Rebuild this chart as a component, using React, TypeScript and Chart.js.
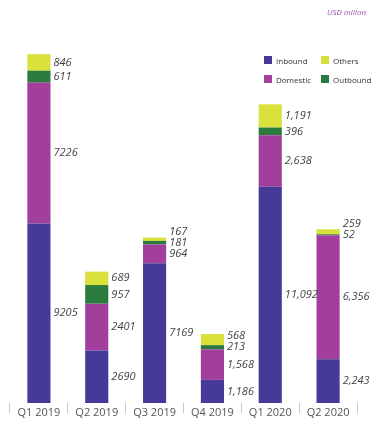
import React, { useEffect, useRef } from "react";
import { Chart, registerables } from "chart.js";

Chart.register(...registerables);

const categories = ["Q1 2019", "Q2 2019", "Q3 2019", "Q4 2019", "Q1 2020", "Q2 2020"];
const inbound = [9205, 2690, 7169, 1186, 11092, 2243];
const domestic = [7226, 2401, 964, 1568, 2638, 6356];
const outbound = [611, 957, 181, 213, 396, 52];
const others = [846, 689, 167, 568, 1191, 259];
const useThousandsSeparator = [false, false, false, true, true, true];
const unitNote = "USD millon";

const seriesNames = ["Inbound", "Domestic", "Outbound", "Others"];
const seriesColors = ["#463a98", "#a23e9c", "#2c7b3e", "#d9e03a"];
const legendOrder = [0, 3, 1, 2];

const labelFont = "italic 11px 'Open Sans', sans-serif";

const segmentLabels = {
  id: "segmentLabels",
  afterDatasetsDraw(chart: any) {
    const ctx = chart.ctx;
    ctx.save();
    ctx.font = labelFont;
    ctx.fillStyle = "#444444";
    ctx.textAlign = "left";
    ctx.textBaseline = "middle";
    const n = chart.data.labels.length;
    for (let i = 0; i < n; i++) {
      let prevY = Infinity;
      chart.data.datasets.forEach((ds: any, di: number) => {
        const meta = chart.getDatasetMeta(di);
        const el: any = meta.data[i];
        if (!el) return;
        const center = (el.y + el.base) / 2;
        const y = Math.min(center, prevY - 11);
        prevY = y;
        const v = ds.data[i];
        const text = useThousandsSeparator[i] ? v.toLocaleString("en-US") : String(v);
        ctx.fillText(text, el.x + el.width / 2 + 3, y);
      });
    }
    ctx.restore();
  },
};

export default function App() {
  const canvasRef = useRef<HTMLCanvasElement | null>(null);

  useEffect(() => {
    if (!canvasRef.current) return;
    const datasets = [inbound, domestic, outbound, others].map((d, k) => ({
      label: seriesNames[k],
      data: d,
      backgroundColor: seriesColors[k],
      borderWidth: 0,
      barPercentage: 0.8,
      categoryPercentage: 0.5,
    }));
    const chart = new Chart(canvasRef.current, {
      type: "bar",
      data: { labels: categories, datasets },
      options: {
        animation: false,
        responsive: false,
        devicePixelRatio: 1,
        layout: { padding: { top: 13, left: 10, right: 18, bottom: 0 } },
        plugins: { legend: { display: false }, tooltip: { enabled: false } },
        scales: {
          x: {
            stacked: true,
            offset: true,
            border: { display: false },
            grid: {
              display: true,
              drawOnChartArea: false,
              offset: true,
              tickLength: 10,
              color: "#c8c8c8",
            },
            ticks: {
              padding: -7,
              color: "#555555",
              font: { family: "'Open Sans', sans-serif", size: 11 },
              maxRotation: 0,
            },
            afterFit: (s: any) => {
              s.height = 20;
            },
          },
          y: {
            stacked: true,
            display: false,
            min: 0,
            max: 20000,
          },
        },
      },
      plugins: [segmentLabels],
    });
    return () => chart.destroy();
  }, []);

  return (
    <div style={{ position: "fixed", left: 0, top: 0, width: 375, height: 423, background: "#fff" }}>
      <canvas ref={canvasRef} width={375} height={423} style={{ position: "absolute", left: 0, top: 0 }} />
      <div
        style={{
          position: "absolute",
          right: 9,
          top: 6,
          fontFamily: "'Open Sans', sans-serif",
          fontStyle: "italic",
          fontSize: 8,
          color: "#a24cb2",
          lineHeight: "12px",
        }}
      >
        {unitNote}
      </div>
      {legendOrder.map((k, idx) => {
        const col = idx % 2;
        const row = Math.floor(idx / 2);
        return (
          <div
            key={k}
            style={{
              position: "absolute",
              left: col === 0 ? 264 : 321,
              top: row === 0 ? 54 : 73,
              height: 12,
              display: "flex",
              alignItems: "center",
              fontFamily: "'Open Sans', sans-serif",
              fontSize: 8,
              color: "#333333",
              whiteSpace: "nowrap",
            }}
          >
            <span
              style={{
                display: "inline-block",
                width: 8,
                height: 8,
                background: seriesColors[k],
                marginRight: 4,
              }}
            />
            {seriesNames[k]}
          </div>
        );
      })}
    </div>
  );
}
